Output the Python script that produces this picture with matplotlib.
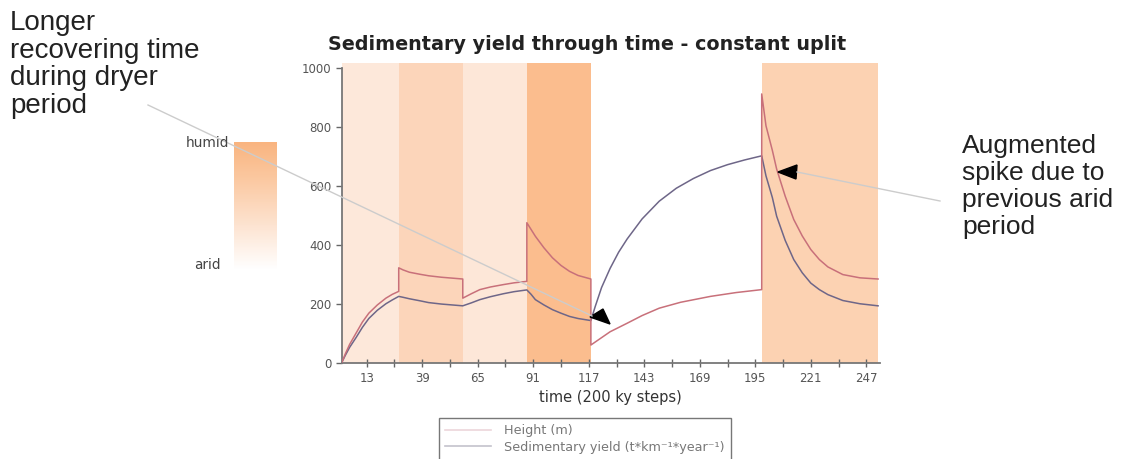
#plot.py
#sedimentary yield through time - constant uplift, with slide annotations

import numpy as np
import matplotlib
matplotlib.use("Agg")
import matplotlib.pyplot as plt
from matplotlib.lines import Line2D
from matplotlib.patches import Polygon

W, H = 1123, 459

#data (time step, value)
sed_time = [1.3, 3, 5, 8, 11, 14, 18, 22, 25, 28,
            28, 30, 33, 38, 42, 48, 53, 58,
            58, 62, 66, 71, 77, 82, 88,
            88, 90, 92, 96, 100, 104, 108, 112, 118,
            118, 122, 127, 135, 142, 150, 160, 174, 186, 198,
            198, 200, 203, 205, 209, 213, 217, 221, 225, 229, 236, 244, 252.5]
sed_yield = [0, 30, 62, 100, 138, 168, 196, 219, 232, 242,
             322, 315, 307, 300, 295, 290, 287, 284,
             219, 234, 248, 257, 265, 271, 276,
             475, 452, 429, 390, 356, 330, 310, 296, 284,
             60, 80, 105, 134, 160, 185, 205, 225, 238, 248,
             912, 804, 720, 657, 565, 486, 430, 384, 350, 325, 299, 288, 284]

h_time = [1.3, 3, 5, 8, 11, 14, 18, 22, 25, 28,
          30, 33, 38, 42, 48, 53, 58,
          62, 66, 71, 77, 82, 88,
          90, 92, 96, 100, 104, 108, 112, 118,
          120, 123, 127, 131, 135, 142, 150, 158, 166, 174, 182, 190, 198,
          200, 203, 205, 209, 213, 217, 221, 225, 229, 236, 244, 252.5]
height = [0, 25, 52, 85, 120, 150, 178, 200, 213, 225,
          222, 217, 210, 204, 199, 196, 193,
          203, 214, 224, 234, 241, 247,
          232, 214, 196, 180, 168, 157, 150, 143,
          190, 255, 320, 375, 420, 488, 548, 592, 625, 652, 672, 688, 702,
          634, 560, 497, 415, 350, 305, 270, 248, 231, 211, 200, 193]

#climate periods (start, end, colour)
period_start = [0, 28, 58, 88, 198]
period_end = [28, 58, 88, 118, 252.5]
period_col = ["#fde8da", "#fcd5ba", "#fde7d8", "#fbbd8e", "#fcd2b2"]

xtick_major = [13, 39, 65, 91, 117, 143, 169, 195, 221, 247]
xtick_minor = [26, 52, 78, 104, 130, 156, 182, 208, 234]
ytick = [0, 200, 400, 600, 800, 1000]

def fx(px):
    return px / W

def fy(py):
    return 1 - py / H

fig = plt.figure(figsize=(W / 100, H / 100), dpi=100)
ax = fig.add_axes([fx(341.7), fy(362.7), fx(880) - fx(341.7), fy(63) - fy(362.7)])

for s, e, c in zip(period_start, period_end, period_col):
    ax.axvspan(s, e, color=c, lw=0, zorder=0)

ax.plot(h_time, height, color="#6e6688", lw=1.1, zorder=3)
ax.plot(sed_time, sed_yield, color="#c8707a", lw=1.1, zorder=3)

ax.set_xlim(1.3, 253.4)
ax.set_ylim(0, 1017)
ax.set_xticks(xtick_major)
ax.set_xticks(xtick_minor, minor=True)
ax.set_yticks(ytick)
ax.tick_params(axis="both", which="both", colors="#666666", labelcolor="#555555",
               labelsize=8.5, width=1)
ax.tick_params(axis="x", which="both", direction="inout", length=6)
ax.tick_params(axis="y", direction="out", length=4)
for sp in ["top", "right"]:
    ax.spines[sp].set_visible(False)
ax.spines["left"].set_bounds(0, 1000)
ax.spines["left"].set_color("#777777")
ax.spines["bottom"].set_color("#777777")
ax.spines["left"].set_linewidth(1.3)
ax.spines["bottom"].set_linewidth(1.3)
ax.set_xlabel("time (200 ky steps)", fontsize=10.5, color="#333333", labelpad=4)

fig.text(fx(587), fy(45), "Sedimentary yield through time - constant uplit",
         ha="center", va="center", fontsize=13.8, fontweight="bold", color="#222222")

#legend, clipped at the bottom like the slide
handles = [Line2D([], [], color="#ecd6da", lw=1.2), Line2D([], [], color="#c4c2cc", lw=1.2)]
fig.legend(handles, ["Height (m)", "Sedimentary yield (t*km\u207b\u00b9*year\u207b\u00b9)"],
           loc="upper left", bbox_to_anchor=(fx(439), fy(418)), frameon=True,
           fancybox=False, edgecolor="#555555", fontsize=9.2, handlelength=3.6,
           handletextpad=1.0, labelcolor="#777777", borderaxespad=0, borderpad=0.5,
           labelspacing=0.25)

#humid / arid colour scale
cax = fig.add_axes([fx(234), fy(270), fx(277) - fx(234), fy(142) - fy(270)])
grad = np.linspace(0, 1, 100).reshape(-1, 1)
cmap = matplotlib.colors.LinearSegmentedColormap.from_list(
    "ha", [(0, "#ffffff"), (0.35, "#fde3d0"), (0.7, "#fbc9a2"), (1, "#f9b47f")])
cax.imshow(grad, aspect="auto", cmap=cmap, origin="lower")
cax.axis("off")
fig.text(fx(229), fy(143), "humid", ha="right", va="center", fontsize=9.8, color="#444444")
fig.text(fx(221), fy(265), "arid", ha="right", va="center", fontsize=9.8, color="#444444")

#slide annotations
fig.text(fx(10), fy(10), "Longer\nrecovering time\nduring dryer\nperiod", ha="left", va="top",
         fontsize=20, family="Liberation Sans", color="#222222", linespacing=1.08)
fig.text(fx(962), fy(134), "Augmented\nspike due to\nprevious arid\nperiod", ha="left", va="top",
         fontsize=19, family="Liberation Sans", color="#222222", linespacing=1.15)

fig.add_artist(Line2D([fx(148), fx(592)], [fy(105), fy(316)], color="#cccccc", lw=1))
fig.add_artist(Line2D([fx(940), fx(797)], [fy(201), fy(172)], color="#cccccc", lw=1))
tri1 = [(fx(590), fy(317)), (fx(603), fy(309)), (fx(610), fy(324))]
tri2 = [(fx(778), fy(172)), (fx(797), fy(165)), (fx(796), fy(179))]
for t in [tri1, tri2]:
    fig.add_artist(Polygon(t, closed=True, color="black", transform=fig.transFigure))

fig.savefig("out.png", dpi=100)
